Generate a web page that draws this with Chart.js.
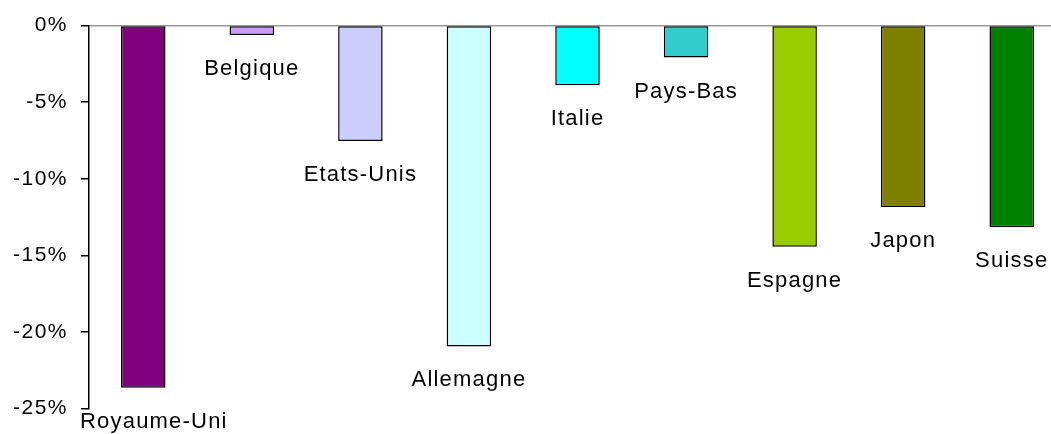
<!DOCTYPE html>
<html>
<head>
<meta charset="utf-8">
<script src="https://cdn.jsdelivr.net/npm/chart.js@4/dist/chart.umd.min.js"></script>
<style>
  html, body { margin: 0; padding: 0; background: #fff; overflow: hidden; }
  #wrap { width: 1066px; height: 434px; }
</style>
</head>
<body>
<div id="wrap"><canvas id="chart" width="1066" height="434"></canvas></div>
<script>
// Données
const pays = ['Royaume-Uni', 'Belgique', 'Etats-Unis', 'Allemagne', 'Italie', 'Pays-Bas', 'Espagne', 'Japon', 'Suisse'];
const variations = [-23.65, -0.62, -7.53, -20.95, -3.89, -2.09, -14.45, -11.85, -13.17];
const couleurs = ['#800080', '#CC99FF', '#CCCCFF', '#CCFFFF', '#00FFFF', '#33CCCC', '#99CC00', '#808000', '#008000'];
const yTicks = [0, -5, -10, -15, -20, -25];

// Étiquettes sous chaque barre
const labelsSousBarres = {
    id: 'labelsSousBarres',
    afterDatasetsDraw(chart) {
        const ctx = chart.ctx;
        const meta = chart.getDatasetMeta(0);
        ctx.save();
        ctx.font = '22px "Liberation Sans", Arial, sans-serif';
        ctx.letterSpacing = '1.2px';
        ctx.fillStyle = '#000';
        ctx.textAlign = 'left';
        ctx.textBaseline = 'alphabetic';
        meta.data.forEach(function(bar, i) {
            const w = ctx.measureText(pays[i]).width;
            let left = bar.x - w / 2;
            if (left < chart.chartArea.left - 9) left = chart.chartArea.left - 9;
            ctx.fillText(pays[i], left, bar.y + 40);
        });
        ctx.restore();
    }
};

const espacement = {
    id: 'espacement',
    beforeDraw(chart) { chart.ctx.letterSpacing = '1.5px'; }
};

new Chart(document.getElementById('chart'), {
    type: 'bar',
    data: {
        labels: pays,
        datasets: [{
            data: variations,
            backgroundColor: couleurs,
            borderColor: '#000',
            borderWidth: 1.5,
            borderSkipped: false,
            barPercentage: 0.41,
            categoryPercentage: 1
        }]
    },
    options: {
        responsive: false,
        animation: false,
        layout: { padding: { top: 24, bottom: 25, left: 0, right: 0 } },
        plugins: { legend: { display: false }, tooltip: { enabled: false } },
        scales: {
            x: { display: false },
            y: {
                min: -25,
                max: 0,
                afterBuildTicks: function(axis) {
                    axis.ticks = yTicks.map(v => ({ value: v }));
                },
                afterFit: function(axis) { axis.width = 89; },
                border: { display: true, color: '#000', width: 1.5 },
                grid: {
                    drawOnChartArea: true,
                    drawTicks: true,
                    tickLength: 8,
                    lineWidth: 1.5,
                    color: c => c.tick && c.tick.value === 0 ? '#999999' : 'rgba(0,0,0,0)',
                    tickColor: '#000'
                },
                ticks: {
                    color: '#000',
                    padding: 13,
                    font: { family: '"Liberation Sans", Arial, sans-serif', size: 21 },
                    callback: v => v + '%'
                }
            }
        }
    },
    plugins: [espacement, labelsSousBarres]
});
</script>
</body>
</html>
